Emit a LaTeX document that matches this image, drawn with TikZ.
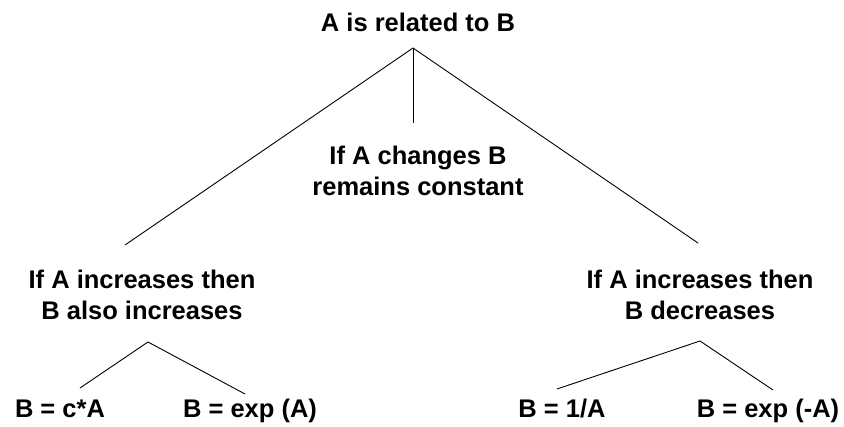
\documentclass[tikz,border=0pt]{standalone}
\usepackage{fontspec}
\setmainfont{Liberation Sans}
\begin{document}
\begin{tikzpicture}[x=1pt,y=-1pt,
  lbl/.style={font=\fontsize{25.5}{31}\selectfont\bfseries, inner sep=0pt, align=center},
  conn/.style={line width=0.9pt}]
\useasboundingbox (0,0) rectangle (844,427);
\node[lbl, anchor=base] (top) at (418,32) {A is related to B};
\node[lbl] (mid) at (418,171) {If A changes B\\remains constant};
\node[lbl] (left) at (142,295) {If A increases then\\B also increases};
\node[lbl] (right) at (700,295) {If A increases then\\B decreases};
\node[lbl, anchor=base] (l1) at (60,418) {B = c*A};
\node[lbl, anchor=base] (l2) at (250,418) {B = exp (A)};
\node[lbl, anchor=base] (r1) at (562,418) {B = 1/A};
\node[lbl, anchor=base] (r2) at (768,418) {B = exp (-A)};
\coordinate (apex) at (413,48);
\coordinate (midend) at (413,123);
\coordinate (leftend) at (125,245);
\coordinate (rightend) at (698,243);
\coordinate (lapex) at (148,342);
\coordinate (l1end) at (80,388);
\coordinate (l2end) at (245,394);
\coordinate (rapex) at (700,341);
\coordinate (r1end) at (557,389);
\coordinate (r2end) at (773,390);
\draw[conn] (apex) -- (midend);
\draw[conn] (apex) -- (leftend);
\draw[conn] (apex) -- (rightend);
\draw[conn] (lapex) -- (l1end);
\draw[conn] (lapex) -- (l2end);
\draw[conn] (rapex) -- (r1end);
\draw[conn] (rapex) -- (r2end);
\end{tikzpicture}
\end{document}
